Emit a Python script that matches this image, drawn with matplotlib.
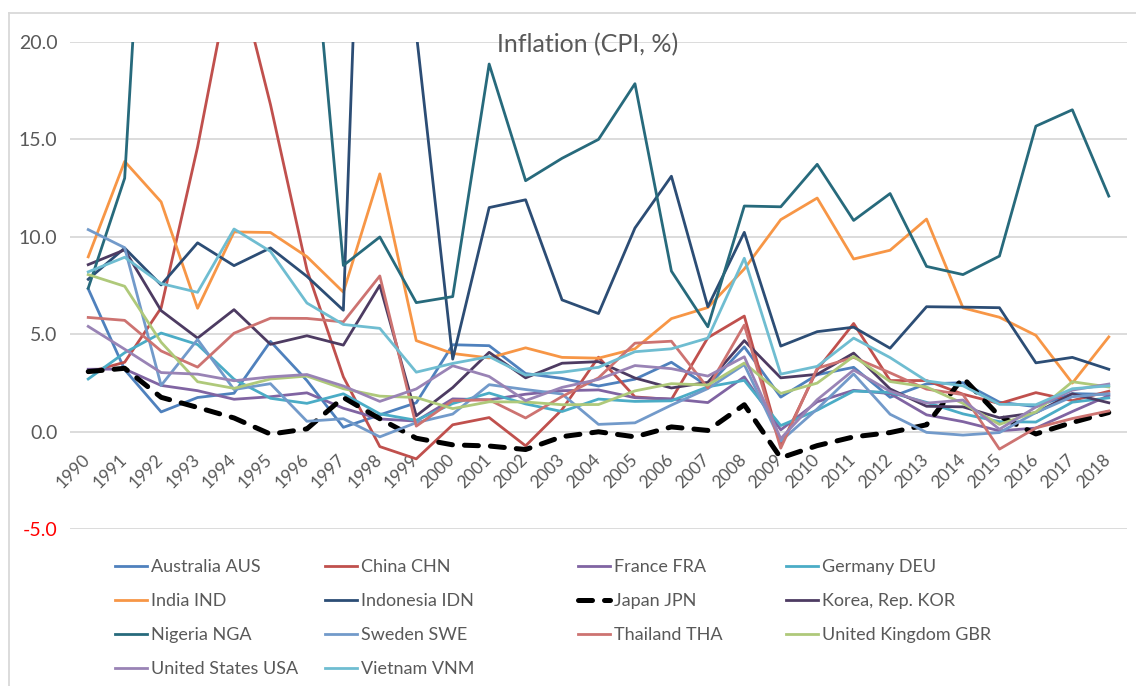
import matplotlib.pyplot as plt
from matplotlib.lines import Line2D
from matplotlib.transforms import ScaledTranslation

plt.rcParams["font.family"] = ["Lato", "DejaVu Sans"]

anos = list(range(1990, 2019))

# inflação (CPI, %) por país, 1990-2018
australia = [7.33, 3.18, 1.01, 1.75, 1.97, 4.63, 2.62, 0.22, 0.86, 1.48,
             4.46, 4.41, 2.98, 2.73, 2.34, 2.69, 3.56, 2.33, 4.35, 1.77,
             2.92, 3.30, 1.76, 2.45, 2.51, 1.51, 1.28, 1.95, 1.91]
china = [3.05, 3.56, 6.35, 14.61, 24.26, 16.79, 8.31, 2.81, -0.77, -1.40,
         0.35, 0.72, -0.73, 1.13, 3.82, 1.78, 1.65, 4.82, 5.93, -0.73,
         3.18, 5.55, 2.62, 2.62, 1.92, 1.44, 2.00, 1.59, 2.07]
franca = [3.20, 3.21, 2.37, 2.10, 1.66, 1.79, 1.99, 1.20, 0.65, 0.54,
          1.68, 1.63, 1.92, 2.10, 2.14, 1.74, 1.68, 1.49, 2.81, 0.09,
          1.53, 2.12, 1.95, 0.86, 0.51, 0.04, 0.18, 1.03, 1.85]
alemanha = [2.70, 4.05, 5.06, 4.47, 2.69, 1.71, 1.45, 1.94, 0.91, 0.58,
            1.44, 1.98, 1.42, 1.03, 1.67, 1.55, 1.58, 2.30, 2.63, 0.31,
            1.10, 2.08, 2.01, 1.50, 0.91, 0.51, 0.49, 1.51, 1.73]
india = [8.97, 13.87, 11.79, 6.33, 10.25, 10.22, 8.98, 7.16, 13.23, 4.67,
         4.01, 3.78, 4.30, 3.81, 3.77, 4.25, 5.80, 6.37, 8.35, 10.88,
         11.99, 8.86, 9.31, 10.91, 6.35, 5.87, 4.94, 2.49, 4.86]
indonesia = [7.82, 9.42, 7.53, 9.69, 8.52, 9.43, 7.97, 6.23, 58.39, 20.49,
             3.72, 11.50, 11.90, 6.76, 6.06, 10.45, 13.11, 6.41, 10.23, 4.39,
             5.13, 5.36, 4.28, 6.41, 6.39, 6.36, 3.53, 3.81, 3.20]
japao = [3.08, 3.25, 1.76, 1.24, 0.70, -0.13, 0.14, 1.75, 0.66, -0.34,
         -0.68, -0.74, -0.92, -0.26, -0.01, -0.27, 0.24, 0.06, 1.38, -1.35,
         -0.72, -0.27, -0.05, 0.35, 2.76, 0.79, -0.12, 0.47, 0.98]
coreia = [8.57, 9.33, 6.21, 4.80, 6.26, 4.48, 4.92, 4.44, 7.51, 0.81,
          2.26, 4.07, 2.76, 3.51, 3.59, 2.75, 2.24, 2.53, 4.67, 2.76,
          2.94, 4.03, 2.19, 1.30, 1.27, 0.71, 0.97, 1.94, 1.48]
nigeria = [7.36, 13.01, 44.59, 57.17, 57.03, 72.84, 29.27, 8.53, 9.99, 6.62,
           6.93, 18.87, 12.88, 14.03, 15.00, 17.86, 8.24, 5.38, 11.58, 11.54,
           13.72, 10.84, 12.22, 8.48, 8.06, 9.01, 15.68, 16.52, 12.09]
suecia = [10.37, 9.44, 2.37, 4.73, 2.16, 2.46, 0.53, 0.66, -0.27, 0.46,
          0.90, 2.41, 2.16, 1.93, 0.37, 0.45, 1.36, 2.21, 3.44, -0.49,
          1.16, 2.96, 0.89, -0.04, -0.18, -0.05, 0.98, 1.79, 1.95]
tailandia = [5.86, 5.71, 4.14, 3.31, 5.05, 5.82, 5.81, 5.63, 7.99, 0.28,
             1.59, 1.63, 0.70, 1.80, 2.76, 4.54, 4.64, 2.24, 5.47, -0.85,
             3.25, 3.81, 3.02, 2.18, 1.90, -0.90, 0.19, 0.67, 1.06]
reino_unido = [8.06, 7.46, 4.59, 2.56, 2.22, 2.70, 2.85, 2.20, 1.82, 1.75,
               1.18, 1.53, 1.52, 1.38, 1.39, 2.09, 2.46, 2.39, 3.52, 1.96,
               2.49, 3.86, 2.57, 2.29, 1.45, 0.37, 1.01, 2.56, 2.29]
eua = [5.40, 4.23, 3.03, 2.95, 2.61, 2.81, 2.93, 2.34, 1.55, 2.19,
       3.38, 2.83, 1.59, 2.27, 2.68, 3.39, 3.23, 2.85, 3.84, -0.36,
       1.64, 3.16, 2.07, 1.46, 1.62, 0.12, 1.26, 2.13, 2.44]
vietna = [8.20, 8.95, 7.60, 7.15, 10.40, 9.25, 6.60, 5.50, 5.30, 3.05,
          3.50, 3.85, 2.90, 3.05, 3.30, 4.10, 4.25, 4.80, 8.90, 2.95,
          3.35, 4.80, 3.80, 2.60, 2.35, 1.40, 1.38, 2.20, 2.35]

paises = ["Australia AUS", "China CHN", "France FRA", "Germany DEU",
          "India IND", "Indonesia IDN", "Japan JPN", "Korea, Rep. KOR",
          "Nigeria NGA", "Sweden SWE", "Thailand THA", "United Kingdom GBR",
          "United States USA", "Vietnam VNM"]
valores = [australia, china, franca, alemanha, india, indonesia, japao,
           coreia, nigeria, suecia, tailandia, reino_unido, eua, vietna]
cores = ["#4F81BD", "#C0504D", "#8064A2", "#4BACC6", "#F79646", "#2C4D75",
         "#000000", "#4D3B62", "#276A7C", "#729ACA", "#CD7371", "#AFC97A",
         "#9983B5", "#6FBDD1"]

cinza_texto = "#595959"
cinza_grade = "#D9D9D9"
W, H = 1136, 686

fig = plt.figure(figsize=(W / 100, H / 100), dpi=100)
ax = fig.add_axes([70 / W, 1 - 529 / H, 1057 / W, 487 / H])

posicoes = list(range(len(anos)))
linhas = []
for nome, serie, cor in zip(paises, valores, cores):
    if nome == "Japan JPN":
        (ln,) = ax.plot(posicoes, serie, color=cor, lw=3.6,
                        linestyle=(0, (2.8, 2.4)), dash_capstyle="round",
                        label=nome)
    else:
        (ln,) = ax.plot(posicoes, serie, color=cor, lw=2.0, label=nome)
    linhas.append(ln)

ax.set_xlim(-0.5, len(anos) - 0.5)
ax.set_ylim(-5, 20)
ax.set_yticks([-5, 0, 5, 10, 15, 20])
ax.set_yticklabels([f"{v:.1f}" for v in [-5, 0, 5, 10, 15, 20]])
ax.set_xticks(posicoes)
ax.set_xticklabels([str(a) for a in anos])
ax.grid(axis="y", color=cinza_grade, lw=1.3)
ax.set_axisbelow(True)
for s in ax.spines.values():
    s.set_visible(False)
ax.spines["bottom"].set_position(("data", 0))

ax.tick_params(axis="y", length=0, pad=9, labelsize=14, labelcolor=cinza_texto)
ax.tick_params(axis="x", length=0, pad=14, labelsize=12.5, labelcolor=cinza_texto)
desloc = ScaledTranslation(-6 / 100, 0, fig.dpi_scale_trans)
for rot in ax.get_xticklabels():
    rot.set_rotation(45)
    rot.set_ha("right")
    rot.set_va("top")
    rot.set_rotation_mode("anchor")
    rot.set_transform(rot.get_transform() + desloc)
ax.get_yticklabels()[0].set_color("#FF0000")

fig.text(588 / W, 1 - 45 / H, "Inflation (CPI, %)", ha="center", va="center",
         fontsize=18, color=cinza_texto)

# legenda em 4 colunas, preenchida por linha como no Excel
colunas = [[0, 4, 8, 12], [1, 5, 9, 13], [2, 6, 10], [3, 7, 11]]
x_colunas = [115, 325, 578, 786]
for idx, xc in zip(colunas, x_colunas):
    leg = fig.legend([linhas[i] for i in idx], [paises[i] for i in idx],
                     loc="upper left", bbox_to_anchor=(xc / W, 1 - 559 / H),
                     frameon=False, borderpad=0, borderaxespad=0, fontsize=13,
                     handlelength=1.75, handletextpad=0.25, labelspacing=1.0,
                     labelcolor=cinza_texto)

# borda do gráfico
fig.add_artist(Line2D([9 / W, 9 / W], [0, 1 - 13 / H], color=cinza_grade,
                      lw=1.3, transform=fig.transFigure))
fig.add_artist(Line2D([9 / W, 1], [1 - 13 / H, 1 - 13 / H], color=cinza_grade,
                      lw=1.3, transform=fig.transFigure))

fig.savefig("out.png", dpi=100)
